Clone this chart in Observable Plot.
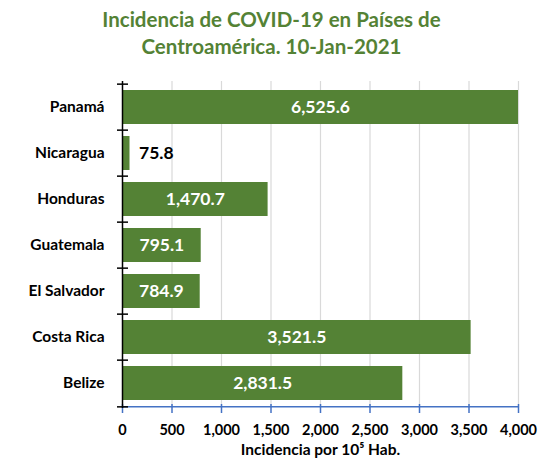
<!DOCTYPE html>
<html>
<head>
<meta charset="utf-8">
<script src="https://cdn.jsdelivr.net/npm/d3@7"></script>
<script src="https://cdn.jsdelivr.net/npm/@observablehq/plot@0.6"></script>
<style>
  body { margin: 0; background: #fff; font-family: Lato, "Open Sans", sans-serif; }
  #title { width: 543px; height: 72px; box-sizing: border-box; padding-top: 6px; text-align: center;
           color: #548235; font-weight: bold; font-size: 20.5px; line-height: 27px; }
  #chart svg { display: block; }
</style>
</head>
<body>
<div id="title">Incidencia de COVID-19 en Países de<br>Centroamérica. 10-Jan-2021</div>
<div id="chart"></div>
<script>
const countries = ["Panamá", "Nicaragua", "Honduras", "Guatemala", "El Salvador", "Costa Rica", "Belize"];
const values = [6525.6, 75.8, 1470.7, 795.1, 784.9, 3521.5, 2831.5];
const xTicks = [0, 500, 1000, 1500, 2000, 2500, 3000, 3500, 4000];
const xMax = 4000;
const xLabel = "Incidencia por 10⁵ Hab.";

const data = countries.map((c, i) => ({country: c, value: values[i]}));
const fmt = d3.format(",.1f");

const W = 543, H = 392, mT = 9, mB = 56, mL = 122, mR = 25;
const step = (H - mT - mB) / countries.length;

const chart = Plot.plot({
  width: W, height: H,
  marginTop: mT, marginBottom: mB, marginLeft: mL, marginRight: mR,
  style: {fontFamily: "Lato, 'Open Sans', sans-serif", fontWeight: "bold", color: "#000", background: "#fff"},
  x: {domain: [0, xMax], axis: null},
  y: {domain: countries, paddingInner: 0.27, paddingOuter: 0.135, axis: null},
  marks: [
    Plot.ruleX(xTicks.filter(t => t > 0), {x: d => d, stroke: "#d9d9d9", strokeWidth: 1.2}),
    Plot.barX(data, {y: "country", x1: 0, x2: d => Math.min(d.value, xMax), fill: "#548235"}),
    // x axis line (blue) and tick marks
    Plot.ruleY([countries[countries.length - 1]], {y: d => d, dy: step / 2, x1: 0, x2: xMax, stroke: "#4472c4", strokeWidth: 1.5}),
    Plot.tickX(xTicks, {x: d => d, stroke: "#4472c4", strokeWidth: 1.5, insetTop: H - mT - mB - 4, insetBottom: -5}),
    // y axis line and boundary ticks
    Plot.ruleX([0], {x: d => d, stroke: "#000", strokeWidth: 1.5}),
    Plot.tickY(countries, {y: d => d, dy: -step / 2, stroke: "#000", strokeWidth: 1.5, insetLeft: -5, insetRight: W - mL - mR - 6}),
    Plot.tickY([countries[countries.length - 1]], {y: d => d, dy: step / 2, stroke: "#000", strokeWidth: 1.5, insetLeft: -5, insetRight: W - mL - mR - 6}),
    Plot.axisX({ticks: xTicks, tickSize: 0, tickPadding: 16, tickFormat: d3.format(","), fontSize: 14.5, fontWeight: "bold", label: null}),
    Plot.axisY({tickSize: 0, tickPadding: 18, fontSize: 15.5, fontWeight: "bold", label: null}),
    Plot.text([xLabel], {text: d => d, frameAnchor: "bottom", dy: 46, fontSize: 15.5, fontWeight: "bold", fill: "#000"}),
    // value labels
    Plot.text(data.filter(d => d.value >= 300), {y: "country", x: d => Math.min(d.value, xMax) / 2, text: d => fmt(d.value), fill: "#fff", fontSize: 17.5, fontWeight: "bold"}),
    Plot.text(data.filter(d => d.value < 300), {y: "country", x: "value", text: d => fmt(d.value), dx: 9, textAnchor: "start", fill: "#000", fontSize: 17.5, fontWeight: "bold"})
  ]
});
document.getElementById("chart").append(chart);
</script>
</body>
</html>
